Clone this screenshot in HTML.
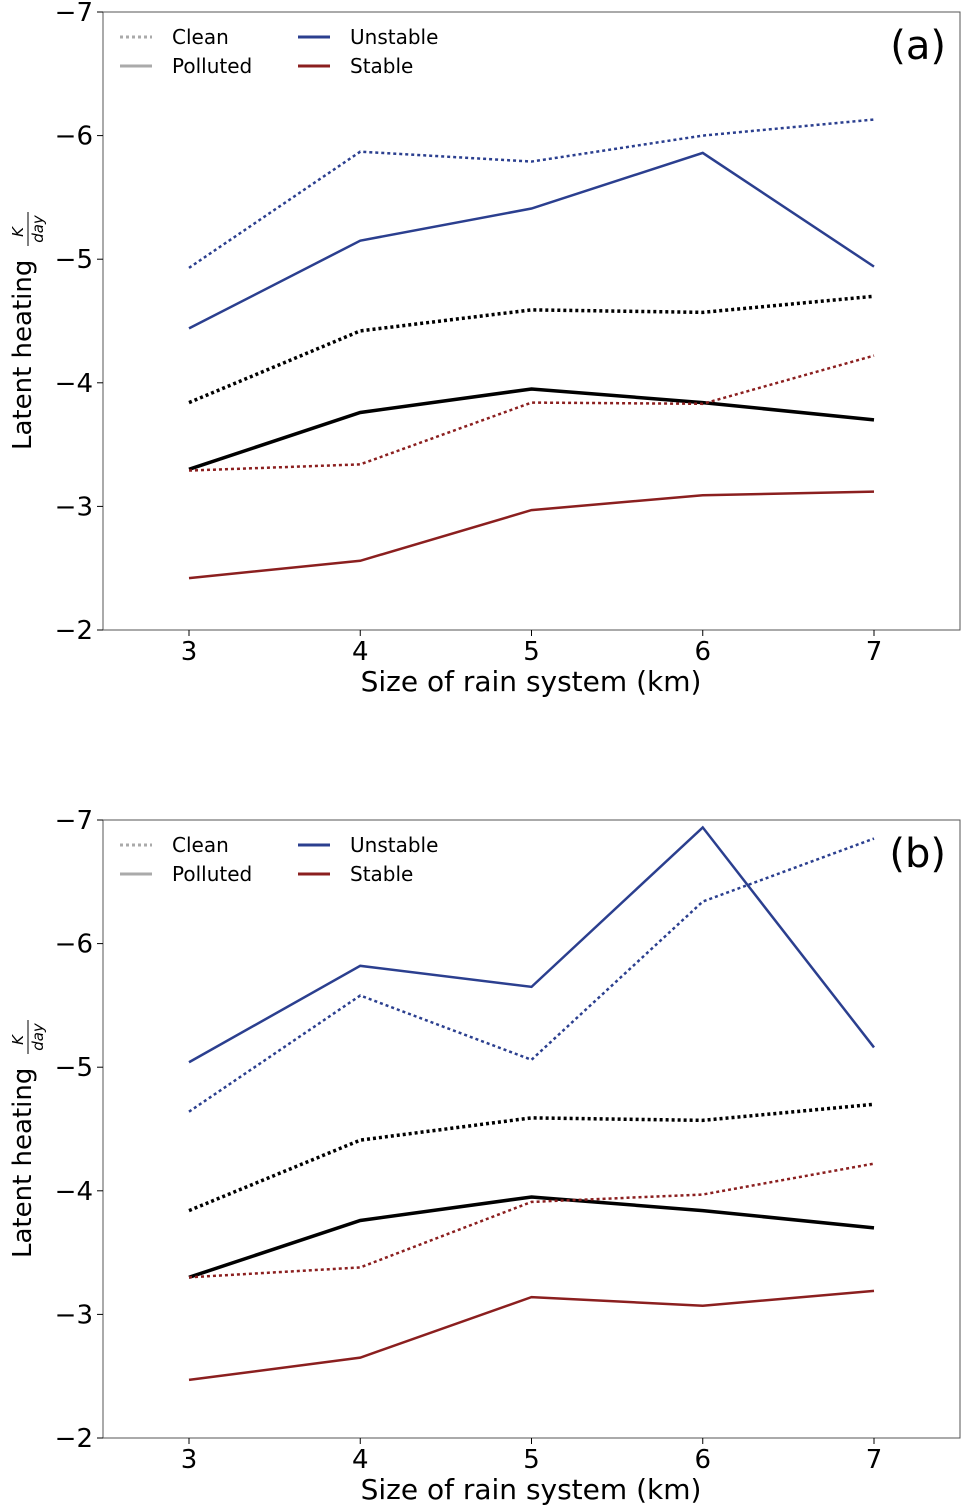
<!DOCTYPE html>
<html><head><meta charset="utf-8"><style>
body{margin:0;background:#fff;}
svg text{font-family:"DejaVu Sans","Liberation Sans",sans-serif;fill:#000;}
</style></head><body>
<svg id="chart" width="962" height="1506" xmlns="http://www.w3.org/2000/svg"></svg>
<script>
const categories=[3,4,5,6,7];
const yTicks=[-7,-6,-5,-4,-3,-2];
const aUnstableClean=[-4.93,-5.87,-5.79,-6.00,-6.13];
const aUnstablePolluted=[-4.44,-5.15,-5.41,-5.86,-4.94];
const aMeanClean=[-3.84,-4.42,-4.59,-4.57,-4.70];
const aMeanPolluted=[-3.30,-3.76,-3.95,-3.84,-3.70];
const aStableClean=[-3.29,-3.34,-3.84,-3.83,-4.22];
const aStablePolluted=[-2.42,-2.56,-2.97,-3.09,-3.12];
const bUnstableClean=[-4.64,-5.58,-5.06,-6.34,-6.85];
const bUnstablePolluted=[-5.04,-5.82,-5.65,-6.94,-5.16];
const bMeanClean=[-3.84,-4.41,-4.59,-4.57,-4.70];
const bMeanPolluted=[-3.30,-3.76,-3.95,-3.84,-3.70];
const bStableClean=[-3.30,-3.38,-3.91,-3.97,-4.22];
const bStablePolluted=[-2.47,-2.65,-3.14,-3.07,-3.19];
const panelLabels=["(a)","(b)"];

const NS="http://www.w3.org/2000/svg";
const svg=document.getElementById('chart');
const BLUE="#2b3f8f",RED="#8b1f1f";
function mk(tag,attrs,parent){const e=document.createElementNS(NS,tag);for(const k in attrs)e.setAttribute(k,attrs[k]);(parent||svg).appendChild(e);return e;}

function panel(top,idx,series){
  const L=103,R=960,T=top,B=top+618;
  const g=mk('g',{});
  
  
  const xs=v=>189+(v-3)*171.25;
  const ys=v=>T+(v+7)/5*(B-T);
  const frame=mk('rect',{x:L,y:T,width:R-L,height:B-T,fill:'none',stroke:'#555','stroke-width':1},g);
  
  
  yTicks.forEach(t=>{
    const y=ys(t);
    mk('line',{x1:L-6,x2:L,y1:y,y2:y,stroke:'#000'},g);
    const tx=mk('text',{x:L-10,y:y+9,'font-size':26,'text-anchor':'end'},g);
    tx.textContent='\u2212'+Math.abs(t);
    
    
  });
  categories.forEach(c=>{
    const x=xs(c);
    mk('line',{x1:x,x2:x,y1:B,y2:B+6,stroke:'#000'},g);
    const tx=mk('text',{x:x,y:B+30,'font-size':26,'text-anchor':'middle'},g);
    tx.textContent=c;
    
    
  });
  const xt=mk('text',{x:531,y:B+61,'font-size':28,'text-anchor':'middle'},g);
  xt.textContent='Size of rain system (km)';
  
  
  const yl=mk('g',{transform:`translate(31,${T+438}) rotate(-90)`},g);
  
  
  const t1=mk('text',{x:0,y:0,'font-size':26},yl);t1.textContent='Latent heating';
  const t2=mk('text',{x:218,y:-8,'font-size':15,'font-style':'italic','text-anchor':'middle'},yl);t2.textContent='K';
  mk('line',{x1:204,x2:238,y1:-3,y2:-3,stroke:'#000','stroke-width':1},yl);
  const t3=mk('text',{x:221,y:12,'font-size':15,'font-style':'italic','text-anchor':'middle'},yl);t3.textContent='day';
  series.forEach(s=>{
    const pts=s.data.map((v,i)=>xs(categories[i])+','+ys(v)).join(' ');
    const p=mk('polyline',{points:pts,fill:'none',stroke:s.color,'stroke-width':s.w,'stroke-dasharray':s.dash?(s.color==='#000'?'3 3':'3 3'):'none'},g);
    
    
  });
  const pl=mk('text',{x:946,y:T+47,'font-size':40,'text-anchor':'end'},g);
  pl.textContent=panelLabels[idx];
  
  
  const lg=mk('g',{},g);
  
  
  const entries=[[120,T+25,'#aaa',true,'Clean'],[120,T+54,'#aaa',false,'Polluted'],[298,T+25,BLUE,false,'Unstable'],[298,T+54,RED,false,'Stable']];
  entries.forEach(e=>{
    const eg=mk('g',{},lg);
    
    
    mk('line',{x1:e[0],x2:e[0]+32,y1:e[1],y2:e[1],stroke:e[2],'stroke-width':3,'stroke-dasharray':e[3]?'3 3':'none'},eg);
    const tx=mk('text',{x:e[0]+52,y:e[1]+7,'font-size':20},eg);tx.textContent=e[4];
  });
}
panel(12,0,[
 {name:'unstable-clean-line',data:aUnstableClean,color:BLUE,w:2.5,dash:true},
 {name:'unstable-polluted-line',data:aUnstablePolluted,color:BLUE,w:2.5,dash:false},
 {name:'mean-clean-line',data:aMeanClean,color:'#000',w:3.5,dash:true},
 {name:'mean-polluted-line',data:aMeanPolluted,color:'#000',w:3.5,dash:false},
 {name:'stable-clean-line',data:aStableClean,color:RED,w:2.5,dash:true},
 {name:'stable-polluted-line',data:aStablePolluted,color:RED,w:2.5,dash:false}]);
panel(820,1,[
 {name:'unstable-clean-line',data:bUnstableClean,color:BLUE,w:2.5,dash:true},
 {name:'unstable-polluted-line',data:bUnstablePolluted,color:BLUE,w:2.5,dash:false},
 {name:'mean-clean-line',data:bMeanClean,color:'#000',w:3.5,dash:true},
 {name:'mean-polluted-line',data:bMeanPolluted,color:'#000',w:3.5,dash:false},
 {name:'stable-clean-line',data:bStableClean,color:RED,w:2.5,dash:true},
 {name:'stable-polluted-line',data:bStablePolluted,color:RED,w:2.5,dash:false}]);
</script>
</body></html>
